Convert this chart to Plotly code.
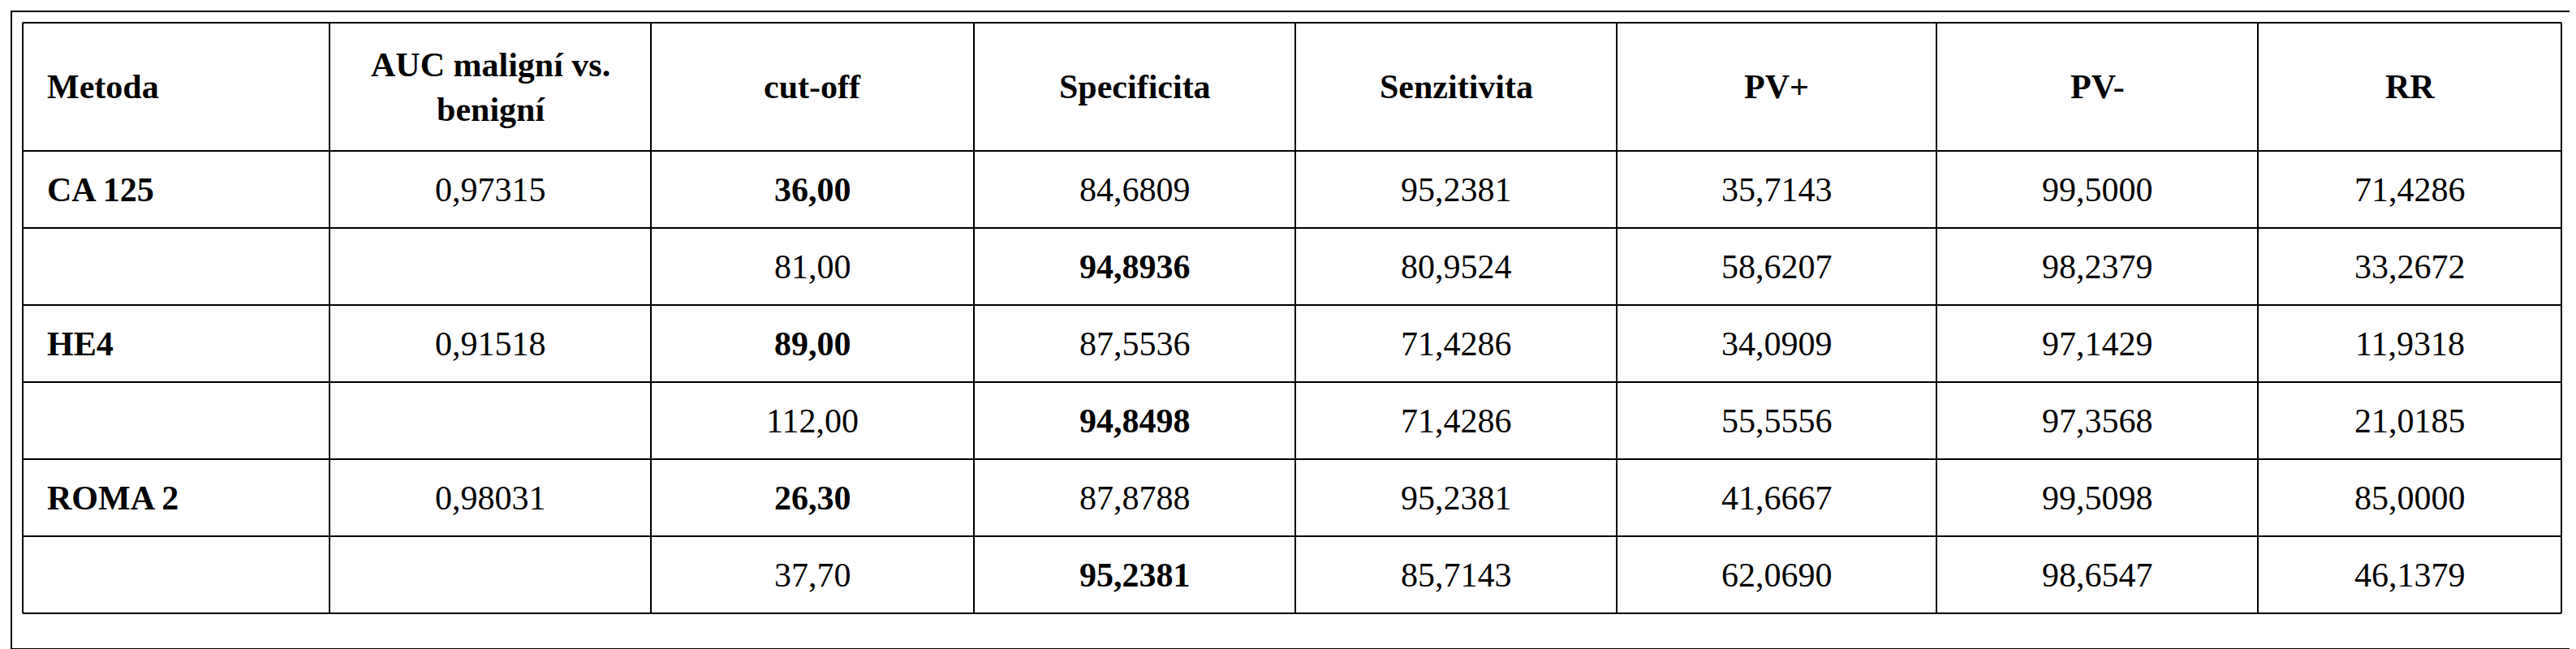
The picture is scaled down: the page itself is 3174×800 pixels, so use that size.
import plotly.graph_objects as go

headers = ["Metoda", "AUC maligní vs.<br>benigní", "cut-off", "Specificita", "Senzitivita", "PV+", "PV-", "RR"]
metoda = ["CA 125", "", "HE4", "", "ROMA 2", ""]
auc = ["0,97315", "", "0,91518", "", "0,98031", ""]
cutoff = ["36,00", "81,00", "89,00", "112,00", "26,30", "37,70"]
specificita = ["84,6809", "94,8936", "87,5536", "94,8498", "87,8788", "95,2381"]
senzitivita = ["95,2381", "80,9524", "71,4286", "71,4286", "95,2381", "85,7143"]
pv_plus = ["35,7143", "58,6207", "34,0909", "55,5556", "41,6667", "62,0690"]
pv_minus = ["99,5000", "98,2379", "97,1429", "97,3568", "99,5098", "98,6547"]
rr = ["71,4286", "33,2672", "11,9318", "21,0185", "85,0000", "46,1379"]
bold_cut = [0, 2, 4]
bold_spec = [1, 3, 5]

W, H = 3174, 800
cols = [20, 398, 794, 1192, 1588, 1984, 2378, 2774, 3148]
rows = [20, 178, 273, 368, 463, 558, 653, 748]
FONT = dict(family="Liberation Serif, Times New Roman, serif", size=42, color="black")

def px(x): return x / W
def py(y): return 1 - y / H

shapes = [dict(type="rect", xref="paper", yref="paper", x0=px(6), x1=px(3166), y0=py(6), y1=py(792),
               line=dict(color="black", width=2))]
for x in cols:
    shapes.append(dict(type="line", xref="paper", yref="paper", x0=px(x), x1=px(x), y0=py(rows[0]), y1=py(rows[-1]),
                       line=dict(color="black", width=2)))
for y in rows:
    shapes.append(dict(type="line", xref="paper", yref="paper", x0=px(cols[0]), x1=px(cols[-1]), y0=py(y), y1=py(y),
                       line=dict(color="black", width=2)))

ann = []
def add(text, ci, ri0, ri1, bold=False):
    if not text:
        return
    t = f"<b>{text}</b>" if bold else text
    yc = (rows[ri0] + rows[ri1]) / 2
    if ci == 0:
        ann.append(dict(text=t, xref="paper", yref="paper", x=px(cols[0] + 28), y=py(yc),
                        xanchor="left", yanchor="middle", showarrow=False, font=FONT, align="left"))
    else:
        ann.append(dict(text=t, xref="paper", yref="paper", x=px((cols[ci] + cols[ci + 1]) / 2), y=py(yc),
                        xanchor="center", yanchor="middle", showarrow=False, font=FONT, align="center"))

for i, h in enumerate(headers):
    add(h, i, 0, 1, bold=True)
data = [metoda, auc, cutoff, specificita, senzitivita, pv_plus, pv_minus, rr]
for ci, col in enumerate(data):
    for r, v in enumerate(col):
        b = ci == 0 or (ci == 2 and r in bold_cut) or (ci == 3 and r in bold_spec)
        add(v, ci, r + 1, r + 2, bold=b)

fig = go.Figure()
fig.update_layout(width=W, height=H, margin=dict(l=0, r=0, t=0, b=0),
                  paper_bgcolor="white", plot_bgcolor="white",
                  xaxis=dict(visible=False), yaxis=dict(visible=False),
                  shapes=shapes, annotations=ann)
fig.write_html("out.html")
